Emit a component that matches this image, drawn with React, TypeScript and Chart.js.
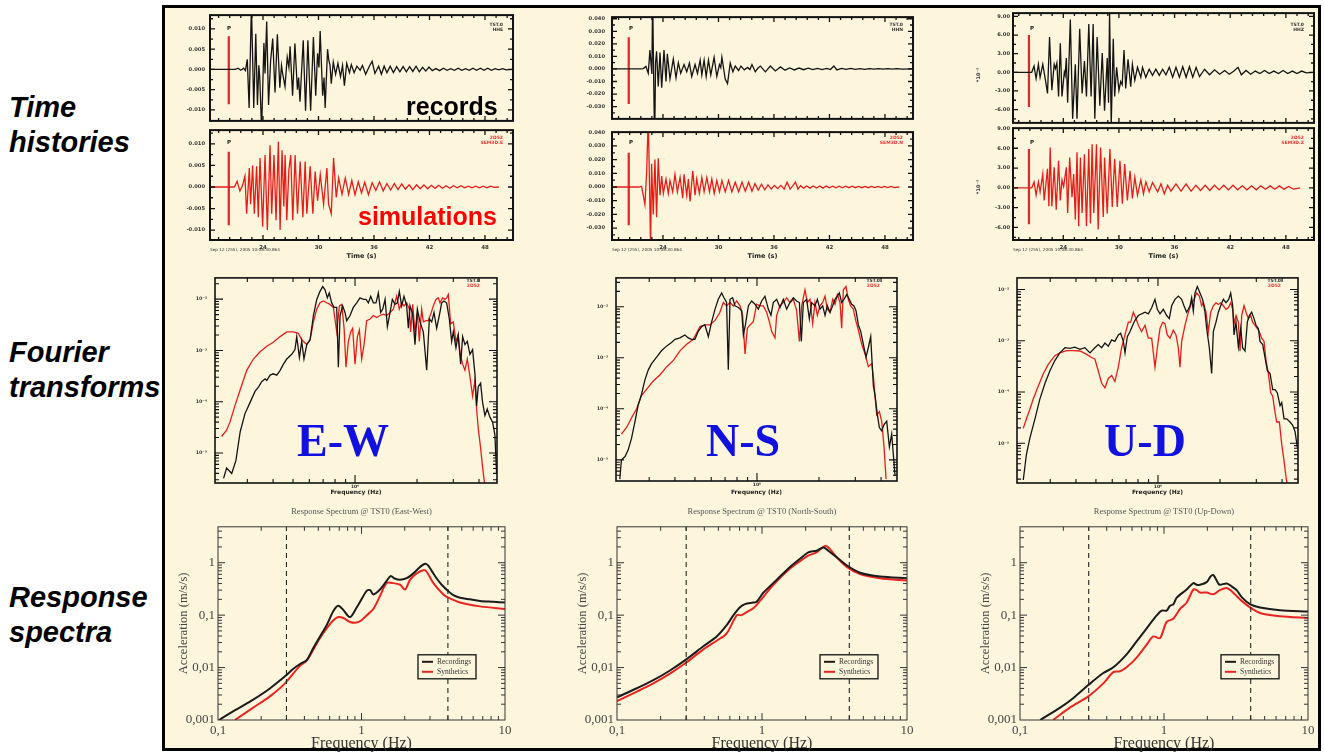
import React, { useEffect, useRef } from "react";
import { Chart, registerables } from "chart.js";

Chart.register(...registerables);
Chart.defaults.font.family = "'DejaVu Sans', sans-serif";

type Pt = [number, number];

// ---------------- Time histories ----------------
const ewRecorded: Pt[] = [
  [18.27,0],[21.0,0],[21.3,0.0003],[21.6,-0.0002],[21.9,0.0003],[22.1,-0.0003],[22.3,0.0025],[22.5,-0.0095],[22.75,0.016],[23.0,-0.0095],
  [23.22,0.0088],[23.4,-0.0088],[23.55,0.001],[23.65,-0.002],[23.85,-0.015],[24.1,0.0065],[24.22,-0.001],[24.4,0.0118],[24.6,-0.0088],[24.82,0.002],
  [25.05,0.0076],[25.3,-0.0057],[25.55,0.0087],[25.82,-0.0045],[26.0,0.001],[26.12,-0.001],[26.38,-0.0042],[26.62,0.003],[26.8,0.0005],[26.93,0.0057],
  [27.2,-0.0065],[27.45,0.0064],[27.72,-0.005],[27.85,-0.002],[28.0,-0.008],[28.35,0.0072],[28.6,-0.0102],[28.85,0.0072],[29.15,-0.0102],[29.45,0.008],
  [29.7,-0.0065],[29.9,0.004],[30.05,0.0005],[30.18,0.0095],[30.45,-0.0065],[30.6,-0.002],[30.72,-0.0095],[30.98,0.005],[31.1,0.0025],[31.25,0.001],
  [31.38,-0.0035],[31.6,0.0018],[31.85,-0.0012],[32.1,0.0015],[32.38,-0.0018],[32.6,0.001],[32.8,-0.004],[33.05,0.0015],[33.35,-0.0008],[33.55,0.0012],
  [33.85,-0.0008],[34.15,0.0008],[34.5,-0.0002],[34.75,0.001],[35.1,-0.0012],[35.5,0.0008],[35.8,0.002],[36.1,-0.001],[36.5,0.0008],[36.8,-0.0012],
  [37.1,0.0008],[37.4,-0.0008],[37.75,0.0008],[38.1,-0.0008],[38.45,0.0007],[38.8,-0.0006],[39.15,0.0007],[39.5,-0.0006],[39.85,0.0007],[40.2,-0.0005],
  [40.55,0.0008],[40.9,-0.0006],[41.25,0.0005],[41.6,-0.0004],[41.95,0.0006],[42.3,-0.0003],[42.7,0.0002],[43.1,-0.0003],[43.5,0.0003],[43.9,-0.0002],
  [44.3,0.0002],[44.7,-0.0002],[45.1,0.0003],[45.5,-0.0002],[45.9,0.0002],[46.3,-0.0002],[46.7,0.0003],[47.1,-0.0002],[47.5,0.0003],[47.9,-0.0002],
  [48.3,0.0003],[48.7,-0.0002],[49.1,0.0002],[49.5,-0.0001],[49.9,0.0002],[50.3,-0.0001],[51.03,0]
];
const ewSynthetic: Pt[] = [
  [18.27,0],[20.9,0],[21.2,0.0013],[21.5,-0.0009],[21.8,0.0004],[22.05,0.0025],[22.23,-0.0062],[22.52,0.0044],[22.66,-0.004],[22.88,0.005],
  [23.06,-0.0062],[23.31,0.0048],[23.49,-0.007],[23.68,0.0067],[23.96,-0.0092],[24.22,0.0074],[24.47,-0.01],[24.76,0.0097],[24.94,-0.0062],[25.19,0.0074],
  [25.41,-0.0077],[25.66,0.0105],[25.85,-0.01],[26.06,0.0085],[26.25,-0.0045],[26.39,0.0074],[26.57,-0.0077],[26.8,0.004],[27.0,0.0074],[27.22,-0.0077],
  [27.47,0.0074],[27.73,-0.0062],[28.02,0.0059],[28.31,-0.007],[28.56,0.0059],[28.74,-0.0062],[29.1,0.0048],[29.39,-0.0062],[29.64,0.0036],[29.9,-0.0032],
  [30.19,0.0029],[30.55,-0.004],[30.91,0.0044],[31.09,-0.004],[31.38,-0.0062],[31.63,0.0067],[31.92,-0.0024],[32.18,0.0021],[32.54,-0.0017],[32.9,0.0021],
  [33.26,-0.0017],[33.6,0.0015],[33.95,-0.0018],[34.3,0.0012],[34.65,-0.0014],[35.0,0.0011],[35.4,-0.0018],[35.8,0.001],[36.2,-0.0008],[36.6,0.0012],
  [37.0,-0.0009],[37.4,0.0008],[37.8,-0.0007],[38.2,0.0008],[38.6,-0.0006],[39.0,0.0007],[39.4,-0.0005],[39.8,0.0005],[40.2,-0.0006],[40.6,0.0005],
  [41.0,-0.0004],[41.4,0.0005],[41.8,-0.0004],[42.2,0.0004],[42.6,-0.0003],[43.0,0.0004],[43.4,-0.0003],[43.8,0.0003],[44.2,-0.0003],[44.6,0.0003],
  [45.0,-0.0002],[45.4,0.0003],[45.8,-0.0002],[46.2,0.0002],[46.6,-0.0002],[47.0,0.0002],[47.4,-0.0002],[47.8,0.0002],[48.2,-0.0002],[48.6,0.0002],
  [49.0,-0.0001],[49.5,0]
];
const nsRecorded: Pt[] = [
  [18.49,0],[21.6,0],[21.87,0.0003],[22.16,0.002],[22.41,-0.0035],[22.59,0.015],[22.8,-0.004],[22.88,0.06],[23.0,-0.01],[23.1,-0.06],
  [23.2,0.005],[23.31,0.014],[23.49,-0.014],[23.68,0.013],[23.86,-0.015],[24.11,0.015],[24.33,-0.01],[24.47,0.012],[24.76,-0.008],[25.12,0.008],
  [25.41,-0.007],[25.66,0.005],[25.92,-0.0035],[26.28,0.0035],[26.57,-0.0023],[26.86,0.0047],[27.11,-0.006],[27.47,0.0035],[27.73,-0.0035],[28.02,0.007],
  [28.2,-0.0047],[28.45,0.007],[28.67,-0.006],[28.92,0.007],[29.17,-0.0047],[29.53,0.0093],[29.82,-0.006],[30.11,0.0035],[30.25,0.001],[30.37,0.0093],
  [30.73,-0.008],[30.98,-0.0116],[31.27,0.0047],[31.56,-0.0023],[31.81,0.0023],[32.18,-0.0012],[32.43,0.0023],[32.79,-0.0007],[33.15,0.0012],[33.4,-0.0005],
  [33.62,0.0035],[33.98,-0.0023],[34.25,0.0005],[34.53,0.0023],[35.07,-0.0023],[35.61,0.0023],[36.15,-0.0016],[36.7,0.0016],[37.2,-0.001],[37.7,0.0008],
  [38.2,-0.0008],[38.7,0.0007],[39.2,-0.0006],[39.7,0.0006],[40.2,-0.0005],[40.7,0.0005],[41.2,-0.0005],[41.7,0.0004],[42.1,-0.0005],[42.48,0.0023],
  [42.8,-0.0008],[43.3,0.0005],[43.8,-0.0004],[44.3,0.0004],[44.8,-0.0003],[45.3,0.0003],[45.8,-0.0003],[46.3,0.0003],[46.8,-0.0002],[47.3,0.0002],
  [47.8,-0.0002],[48.3,0.0002],[48.8,-0.0002],[49.3,0.0002],[49.8,-0.0001],[51.03,0]
];
const nsSynthetic: Pt[] = [
  [18.49,0],[21.4,0],[21.69,0.0005],[22.05,-0.0128],[22.23,0.01],[22.41,0.05],[22.55,0],[22.66,-0.045],[22.77,0.017],[22.95,-0.02],
  [23.13,0.02],[23.31,-0.022],[23.49,0.021],[23.68,-0.006],[23.86,0.008],[24.04,-0.0047],[24.33,0.0058],[24.58,-0.0047],[24.76,0.0047],[25.05,-0.0035],
  [25.3,0.0093],[25.56,-0.0035],[25.85,0.007],[26.14,-0.0081],[26.28,0.0093],[26.57,-0.006],[26.75,0.0058],[26.93,-0.0105],[27.22,0.0116],[27.47,-0.006],
  [27.65,0.0058],[27.94,-0.0047],[28.2,0.007],[28.45,-0.0035],[28.74,0.007],[29.03,-0.0035],[29.28,0.0058],[29.54,-0.0047],[29.82,0.0047],[30.11,-0.0035],
  [30.37,0.0047],[30.73,-0.0035],[31.09,0.0047],[31.45,-0.0035],[31.81,0.0035],[32.18,-0.0035],[32.54,0.0035],[32.9,-0.003],[33.26,0.0035],[33.62,-0.003],
  [33.95,0.0025],[34.3,-0.0022],[34.65,0.002],[35.0,-0.002],[35.35,0.0015],[35.7,-0.0015],[36.05,0.0012],[36.4,-0.0012],[36.75,0.0012],[37.1,-0.0015],
  [37.42,0.0035],[37.75,-0.0015],[38.05,0.001],[38.32,0.0035],[38.6,-0.0015],[38.87,0.001],[39.2,-0.0008],[39.55,0.0008],[39.9,-0.0008],[40.25,0.0008],
  [40.6,-0.0007],[40.95,0.0007],[41.3,-0.0008],[41.65,0.0007],[42.0,-0.0006],[42.35,0.0006],[42.7,-0.0006],[43.05,0.0006],[43.4,-0.0006],[43.75,0.0006],
  [44.1,-0.0005],[44.45,0.0006],[44.8,-0.0005],[45.15,0.0005],[45.5,-0.0005],[45.85,0.0005],[46.2,-0.0005],[46.55,0.0005],[46.9,-0.0004],[47.25,0.0005],
  [47.6,-0.0004],[47.95,0.0005],[48.3,-0.0004],[48.65,0.0004],[49.0,-0.0004],[49.54,0]
];
// vertical component in units of 10^-3
const udRecorded: Pt[] = [
  [18.58,0],[20.6,0],[20.85,1.0],[21.07,-1.0],[21.32,1.3],[21.5,-0.8],[21.79,1.3],[22.05,-1.0],[22.3,-3.4],[22.52,5.7],
  [22.77,-2.9],[23.02,1.3],[23.15,0.6],[23.31,1.5],[23.49,-3.9],[23.68,4.7],[23.86,-3.9],[24.11,0],[24.2,-0.5],[24.33,2.3],
  [24.47,-4.9],[24.76,8.5],[25.01,-7.5],[25.3,1.3],[25.48,-7.5],[25.77,7.0],[26.03,-3.4],[26.28,1.8],[26.5,-3.9],[26.75,7.8],
  [27.0,-3.9],[27.22,7.8],[27.4,-7.5],[27.65,5.7],[27.94,-5.4],[28.2,3.1],[28.45,-6.2],[28.74,2.3],[28.88,-4.9],[28.99,9.8],
  [29.17,-8.5],[29.39,5.4],[29.54,-3.9],[29.75,0.8],[30.0,-2.9],[30.19,-1.5],[30.35,-2.0],[30.55,3.6],[30.73,-2.6],[30.98,2.1],
  [31.27,-2.3],[31.45,1.3],[31.71,-1.3],[32.0,0.8],[32.36,-0.8],[32.54,0.8],[32.9,-0.8],[33.26,0.5],[33.62,-0.5],[33.98,0.5],
  [34.35,-0.5],[34.71,0.5],[35.07,-0.4],[35.43,0.8],[35.79,-0.8],[36.15,0.8],[36.52,-0.8],[36.88,0.9],[37.24,-0.8],[37.6,0.9],
  [37.96,-0.8],[38.32,0.8],[38.69,-0.7],[39.23,0.5],[39.77,-0.4],[40.31,0.4],[40.86,-0.3],[41.4,0.3],[41.9,-0.3],[42.4,0.2],
  [42.84,0.8],[43.2,-0.4],[43.7,0.3],[44.2,-0.3],[44.7,0.2],[45.2,-0.2],[45.7,0.3],[46.2,-0.2],[46.7,0.2],[47.2,-0.2],
  [47.7,0.3],[48.2,-0.2],[48.7,0.2],[49.2,-0.2],[49.7,0.2],[50.2,-0.1],[51.0,0]
];
const udSynthetic: Pt[] = [
  [18.58,0],[20.6,0],[20.85,0.9],[21.07,-1.1],[21.32,0.9],[21.5,-0.6],[21.79,2.1],[21.94,-1.9],[22.3,2.9],[22.45,-2.8],
  [22.59,6.1],[22.77,-2.8],[23.02,3.1],[23.24,-3.3],[23.49,4.1],[23.68,-1.9],[23.86,1.2],[24.04,0.2],[24.33,3.1],[24.47,-3.8],
  [24.69,4.6],[24.94,-1.4],[25.12,2.1],[25.3,-4.8],[25.48,5.4],[25.66,-5.8],[25.85,4.6],[26.03,-3.8],[26.28,5.1],[26.5,-5.8],
  [26.75,5.9],[26.93,-5.4],[27.11,6.6],[27.29,-3.8],[27.58,6.6],[27.76,-6.3],[28.02,6.1],[28.31,-4.4],[28.45,4.6],[28.74,-3.9],
  [29.03,5.9],[29.28,-2.9],[29.54,4.4],[29.82,-2.9],[30.11,4.1],[30.37,-2.4],[30.62,3.6],[30.91,-1.9],[31.2,2.6],[31.45,-1.6],
  [31.71,1.6],[32.0,-1.1],[32.36,1.2],[32.65,-0.9],[32.9,0.9],[33.26,-0.6],[33.62,0.8],[34.17,-0.6],[34.53,0.6],[34.89,-0.9],
  [35.25,0.4],[35.61,-0.5],[36.15,0.6],[36.7,-0.5],[37.24,0.6],[37.78,-0.5],[38.3,0.4],[38.8,-0.4],[39.3,0.4],[39.8,-0.4],
  [40.3,0.4],[40.8,-0.3],[41.3,0.4],[41.8,-0.3],[42.3,0.4],[42.8,-0.3],[43.3,0.3],[43.8,-0.3],[44.3,0.3],[44.8,-0.3],
  [45.3,0.3],[45.8,-0.2],[46.3,0.3],[46.8,-0.2],[47.3,0.3],[47.8,-0.2],[48.3,0.2],[48.8,-0.2],[49.54,0]
];

// P-wave pick markers (time, amplitude extent)
const ewPickTop: Pt[] = [[20.3, 0.0082], [20.3, -0.0086]];
const ewPickBottom: Pt[] = [[20.3, 0.0082], [20.3, -0.0089]];
const nsPickTop: Pt[] = [[20.3, 0.0253], [20.3, -0.0279]];
const nsPickBottom: Pt[] = [[20.3, 0.025], [20.3, -0.028]];
const udPickTop: Pt[] = [[20.3, 6.0], [20.3, -5.6]];
const udPickBottom: Pt[] = [[20.3, 5.9], [20.3, -5.5]];

const TIME_TICKS = [24, 30, 36, 42, 48];
const TIME_MINOR = [19.2, 20.4, 21.6, 22.8, 25.2, 26.4, 27.6, 28.8, 31.2, 32.4, 33.6, 34.8, 37.2, 38.4, 39.6, 40.8, 43.2, 44.4, 45.6, 46.8, 49.2, 50.4];
const EW_TICKS = [-0.01, -0.005, 0, 0.005, 0.01];
const EW_MINOR = [-0.0125, -0.0075, -0.0025, 0.0025, 0.0075, 0.0125];
const NS_TICKS = [-0.03, -0.02, -0.01, 0, 0.01, 0.02, 0.03, 0.04];
const NS_MINOR = [-0.035, -0.025, -0.015, -0.005, 0.005, 0.015, 0.025, 0.035];
const UD_TICKS = [-6, -3, 0, 3, 6, 9];
const UD_MINOR = [-7.5, -4.5, -1.5, 1.5, 4.5, 7.5];

// ---------------- Fourier amplitude spectra (Hz, amplitude) ----------------
const ewFourierRec: Pt[] = [
  [0.23,3.2e-6],[0.238,5.1e-6],[0.252,4.0e-6],[0.264,7.1e-6],[0.277,2.6e-5],[0.292,5.8e-5],[0.309,9.6e-5],[0.327,1.59e-4],[0.341,1.97e-4],[0.352,2.45e-4],
  [0.366,2.8e-4],[0.373,2.6e-4],[0.387,3.3e-4],[0.401,3.5e-4],[0.417,3.3e-4],[0.433,4.1e-4],[0.449,5.4e-4],[0.466,6.8e-4],[0.493,8.4e-4],[0.511,1.04e-3],
  [0.521,1.86e-3],[0.537,7.3e-4],[0.551,1.5e-3],[0.565,6.8e-4],[0.583,1.3e-3],[0.605,1.61e-3],[0.628,4.8e-3],[0.652,9.9e-3],[0.676,1.42e-2],[0.697,1.76e-2],
  [0.715,1.52e-2],[0.734,1.06e-2],[0.75,1.32e-2],[0.77,8.5e-3],[0.791,6.9e-3],[0.815,6.9e-3],[0.83,4.7e-4],[0.846,4.8e-3],[0.871,7.4e-3],[0.894,5.5e-3],
  [0.911,3.8e-3],[0.946,4.8e-3],[0.981,6.9e-3],[1.019,8.5e-3],[1.057,1.06e-2],[1.098,9.9e-3],[1.131,9.9e-3],[1.161,8.5e-3],[1.192,1.14e-2],[1.227,8.5e-3],
  [1.264,8.5e-3],[1.298,1.32e-2],[1.332,5.5e-3],[1.363,6.4e-3],[1.399,9.9e-3],[1.436,2.9e-3],[1.479,5.5e-3],[1.518,9.9e-3],[1.564,7.9e-3],[1.605,8.5e-3],
  [1.641,1.42e-2],[1.684,7.4e-3],[1.729,1.14e-2],[1.781,7.4e-3],[1.815,2.7e-3],[1.849,7.4e-3],[1.905,5.1e-3],[1.955,1.3e-3],[2.007,6.4e-3],[2.067,3.6e-3],
  [2.146,2.3e-3],[2.228,4.1e-4],[2.295,4.1e-3],[2.356,3.6e-3],[2.418,5.5e-3],[2.491,2.7e-3],[2.566,4.8e-3],[2.634,8.5e-3],[2.703,9.2e-3],[2.785,8.5e-3],
  [2.87,4.1e-3],[2.945,1.5e-3],[3.0,2.3e-3],[3.09,1.12e-3],[3.17,2.0e-3],[3.257,5.4e-4],[3.33,1.86e-3],[3.418,1.3e-3],[3.508,1.5e-3],[3.614,8.4e-4],
  [3.723,1.04e-3],[3.82,3.5e-4],[3.893,8.3e-5],[3.966,1.97e-4],[4.071,2.3e-4],[4.163,9.6e-5],[4.273,5.4e-5],[4.386,7.2e-5],[4.518,5.0e-5],[4.655,4.0e-5],
  [4.777,2.25e-5],[4.867,4.0e-6]
];
const ewFourierSyn: Pt[] = [
  [0.225,2.1e-5],[0.238,2.8e-5],[0.247,4.0e-5],[0.261,8.3e-5],[0.277,1.71e-4],[0.298,4.1e-4],[0.321,6.8e-4],[0.346,9.4e-4],[0.373,1.21e-3],[0.401,1.44e-3],
  [0.433,1.86e-3],[0.466,2.3e-3],[0.502,2.3e-3],[0.531,2.15e-3],[0.551,1.61e-3],[0.583,1.3e-3],[0.605,1.61e-3],[0.628,3.6e-3],[0.652,6.4e-3],[0.676,8.5e-3],
  [0.702,9.2e-3],[0.728,8.5e-3],[0.756,7.9e-3],[0.785,6.9e-3],[0.815,2.3e-3],[0.84,7.4e-3],[0.862,7.9e-3],[0.885,2.7e-3],[0.904,4.7e-4],[0.928,1.5e-3],
  [0.953,2.3e-3],[0.974,2.7e-3],[1.0,5.4e-4],[1.027,1.86e-3],[1.05,2.5e-3],[1.077,6.8e-4],[1.106,1.3e-3],[1.139,3.8e-3],[1.183,4.1e-3],[1.227,4.8e-3],
  [1.274,4.4e-3],[1.322,4.8e-3],[1.373,5.1e-3],[1.425,4.8e-3],[1.479,5.5e-3],[1.535,6.4e-3],[1.593,1.14e-2],[1.641,6.4e-3],[1.684,8.5e-3],[1.729,7.4e-3],
  [1.781,8.5e-3],[1.835,6.4e-3],[1.863,2.3e-3],[1.905,7.9e-3],[1.955,2.3e-3],[2.007,5.5e-3],[2.052,1.5e-3],[2.106,6.4e-3],[2.146,3.6e-3],[2.211,3.8e-3],
  [2.27,3.8e-3],[2.33,5.1e-3],[2.4,7.4e-3],[2.472,9.9e-3],[2.537,1.06e-2],[2.585,8.5e-3],[2.663,1.06e-2],[2.733,9.9e-3],[2.785,1.06e-2],[2.838,1.23e-2],
  [2.913,3.3e-3],[3.0,3.6e-3],[3.09,1.5e-3],[3.17,2.0e-3],[3.232,9.0e-4],[3.33,5.4e-4],[3.418,4.1e-4],[3.508,6.8e-4],[3.614,3.05e-4],[3.723,1.28e-4],
  [3.82,2.6e-4],[3.893,7.2e-5],[3.966,3.0e-5],[4.071,1.26e-5],[4.163,5.3e-6],[4.273,2.2e-6]
];
const nsFourierRec: Pt[] = [
  [0.216,4.2e-6],[0.22,1.0e-5],[0.229,1.16e-5],[0.237,1.55e-5],[0.246,2.6e-5],[0.256,5.7e-5],[0.265,1.17e-4],[0.275,1.9e-4],[0.286,3.7e-4],[0.297,5.8e-4],
  [0.308,7.7e-4],[0.326,1.03e-3],[0.344,1.37e-3],[0.365,1.71e-3],[0.385,2.0e-3],[0.4,2.3e-3],[0.423,2.45e-3],[0.447,2.8e-3],[0.464,2.45e-3],[0.482,2.3e-3],
  [0.5,2.3e-3],[0.519,3.3e-3],[0.539,4.1e-3],[0.559,4.4e-3],[0.581,2.6e-3],[0.603,5.1e-3],[0.626,9.0e-3],[0.649,1.4e-2],[0.674,1.86e-2],[0.692,1.5e-2],
  [0.712,1.21e-2],[0.726,5.8e-4],[0.74,1.4e-2],[0.762,1.5e-2],[0.782,1.04e-2],[0.812,9.7e-3],[0.843,8.4e-3],[0.859,2.8e-3],[0.879,4.4e-3],[0.908,1.04e-2],
  [0.942,1.3e-2],[0.978,1.12e-2],[1.015,9.0e-3],[1.054,1.3e-2],[1.093,1.61e-2],[1.135,9.0e-3],[1.169,6.8e-3],[1.2,1.21e-2],[1.246,1.4e-2],[1.293,9.7e-3],
  [1.342,1.4e-2],[1.393,9.0e-3],[1.446,1.21e-2],[1.501,1.5e-2],[1.558,1.3e-2],[1.606,1.21e-2],[1.641,2.1e-3],[1.679,1.21e-2],[1.742,1.4e-2],[1.795,5.8e-3],
  [1.842,1.21e-2],[1.912,1.04e-2],[1.963,1.4e-2],[2.022,9.0e-3],[2.084,1.04e-2],[2.139,6.8e-3],[2.195,1.04e-2],[2.262,7.8e-3],[2.33,1.04e-2],[2.391,1.4e-2],
  [2.455,1.61e-2],[2.51,1.86e-2],[2.576,1.21e-2],[2.644,1.4e-2],[2.724,1.73e-2],[2.806,1.4e-2],[2.88,1.12e-2],[2.956,1.04e-2],[3.024,8.4e-3],[3.104,4.4e-3],
  [3.186,3.3e-3],[3.283,1.84e-3],[3.382,1.03e-3],[3.471,1.59e-3],[3.563,2.6e-3],[3.671,2.8e-4],[3.74,1.81e-4],[3.839,7.6e-5],[3.926,4.3e-5],[4.029,3.7e-5],
  [4.136,4.9e-5],[4.261,5.7e-5],[4.39,1.79e-5],[4.506,3.2e-5],[4.677,4.8e-6]
];
const nsFourierSyn: Pt[] = [
  [0.22,3.2e-5],[0.233,4.3e-5],[0.246,6.6e-5],[0.261,1.01e-4],[0.275,1.81e-4],[0.291,2.4e-4],[0.314,3.5e-4],[0.338,4.6e-4],[0.365,6.7e-4],[0.393,8.9e-4],
  [0.423,1.37e-3],[0.456,1.84e-3],[0.491,2.3e-3],[0.529,4.1e-3],[0.559,4.4e-3],[0.591,4.4e-3],[0.626,5.4e-3],[0.661,7.8e-3],[0.687,1.21e-2],[0.712,1.04e-2],
  [0.74,1.21e-2],[0.768,1.04e-2],[0.797,1.3e-2],[0.827,1.04e-2],[0.852,6.8e-3],[0.875,1.19e-3],[0.898,3.8e-3],[0.925,4.4e-3],[0.96,5.1e-3],[0.996,1.12e-2],
  [1.034,1.04e-2],[1.073,1.04e-2],[1.114,7.8e-3],[1.148,5.1e-3],[1.178,3.3e-3],[1.223,2.45e-3],[1.246,6.8e-3],[1.293,1.04e-2],[1.342,1.21e-2],[1.393,1.5e-2],
  [1.446,1.21e-2],[1.501,1.4e-2],[1.558,8.4e-3],[1.606,2.1e-3],[1.648,1.04e-2],[1.71,2.15e-2],[1.755,1.21e-2],[1.808,1.4e-2],[1.863,4.7e-3],[1.912,1.21e-2],
  [1.963,6.8e-3],[2.022,1.04e-2],[2.084,1.21e-2],[2.139,1.61e-2],[2.195,9.0e-3],[2.262,7.8e-3],[2.33,1.4e-2],[2.391,1.12e-2],[2.455,1.73e-2],[2.529,1.21e-2],
  [2.576,3.8e-3],[2.625,2.15e-2],[2.704,2.49e-2],[2.775,1.4e-2],[2.848,1.04e-2],[2.934,9.0e-3],[3.024,5.1e-3],[3.104,3.5e-3],[3.222,1.84e-3],[3.345,1.19e-3],
  [3.471,6.7e-4],[3.603,7.7e-4],[3.671,4.3e-4],[3.74,1.81e-4],[3.811,7.6e-5],[3.926,8.8e-5],[4.029,5.7e-5],[4.136,1.79e-5],[4.229,4.2e-6]
];
const udFourierRec: Pt[] = [
  [0.222,1.92e-6],[0.23,6.1e-6],[0.239,1.26e-5],[0.253,3.0e-5],[0.267,7.2e-5],[0.283,1.48e-4],[0.299,2.6e-4],[0.316,4.1e-4],[0.334,5.8e-4],[0.354,7.3e-4],
  [0.374,7.1e-4],[0.395,7.5e-4],[0.418,6.8e-4],[0.442,7.3e-4],[0.468,5.8e-4],[0.494,7.3e-4],[0.513,8.4e-4],[0.533,7.3e-4],[0.553,9.0e-4],[0.574,7.8e-4],
  [0.596,1.04e-3],[0.618,9.7e-4],[0.642,1.3e-3],[0.659,1.4e-3],[0.679,9.7e-4],[0.692,5.8e-4],[0.71,1.2e-3],[0.731,1.5e-3],[0.754,2.0e-3],[0.774,2.5e-3],
  [0.803,3.1e-3],[0.833,3.35e-3],[0.865,3.6e-3],[0.898,3.35e-3],[0.932,4.4e-3],[0.967,6.4e-3],[0.993,4.1e-3],[1.023,3.35e-3],[1.061,4.1e-3],[1.102,3.1e-3],
  [1.135,2.7e-3],[1.165,4.8e-3],[1.209,6.4e-3],[1.255,7.4e-3],[1.303,6.4e-3],[1.337,4.8e-3],[1.378,3.6e-3],[1.404,4.1e-3],[1.43,4.8e-3],[1.457,6.9e-3],
  [1.484,3.8e-3],[1.512,8.5e-3],[1.552,1.14e-2],[1.599,8.5e-3],[1.647,6.4e-3],[1.691,3.6e-3],[1.723,1.73e-3],[1.775,7.3e-4],[1.822,2.3e-4],[1.856,1.5e-3],
  [1.912,2.3e-3],[1.963,3.6e-3],[2.015,4.8e-3],[2.076,6.4e-3],[2.139,5.5e-3],[2.203,6.4e-3],[2.253,8.5e-3],[2.304,4.8e-3],[2.339,1.3e-3],[2.391,2.3e-3],
  [2.455,7.6e-4],[2.52,1.73e-3],[2.576,7.3e-4],[2.644,6.3e-4],[2.714,2.3e-3],[2.775,3.1e-3],[2.848,3.6e-3],[2.924,2.7e-3],[2.99,2.0e-3],[3.069,1.73e-3],
  [3.127,9.7e-4],[3.222,8.4e-4],[3.307,4.7e-4],[3.395,2.6e-4],[3.498,2.3e-4],[3.603,1.11e-4],[3.698,1.11e-4],[3.796,9.6e-5],[3.911,5.4e-5],[3.985,6.2e-5],
  [4.09,3.0e-5],[4.213,3.0e-5],[4.373,2.6e-5],[4.505,2.25e-5],[4.624,1.7e-5],[4.746,8.2e-6]
];
const udFourierSyn: Pt[] = [
  [0.222,1.95e-5],[0.23,3.0e-5],[0.239,4.6e-5],[0.248,7.2e-5],[0.262,1.28e-4],[0.278,2.3e-4],[0.294,3.5e-4],[0.316,5.1e-4],[0.334,5.8e-4],[0.36,6.4e-4],
  [0.388,6.4e-4],[0.418,6.3e-4],[0.451,5.4e-4],[0.476,4.7e-4],[0.494,4.4e-4],[0.513,2.6e-4],[0.533,1.48e-4],[0.553,1.2e-4],[0.574,1.84e-4],[0.596,2.1e-4],
  [0.618,1.6e-4],[0.642,3.05e-4],[0.666,7.3e-4],[0.692,1.3e-3],[0.718,2.3e-3],[0.737,2.3e-3],[0.759,3.6e-3],[0.782,2.7e-3],[0.803,2.0e-3],[0.833,1.5e-3],
  [0.865,2.0e-3],[0.898,1.12e-3],[0.932,1.12e-3],[0.967,3.05e-4],[0.993,7.3e-4],[1.023,1.73e-3],[1.054,2.3e-3],[1.081,2.15e-3],[1.11,1.3e-3],[1.144,1.12e-3],
  [1.187,1.6e-3],[1.223,1.3e-3],[1.255,7.3e-4],[1.279,3.05e-4],[1.303,9.7e-4],[1.352,2.0e-3],[1.404,3.6e-3],[1.457,5.5e-3],[1.496,6.4e-3],[1.541,8.5e-3],
  [1.587,7.4e-3],[1.629,4.8e-3],[1.66,5.5e-3],[1.71,3.6e-3],[1.755,1.5e-3],[1.802,3.6e-3],[1.856,4.8e-3],[1.912,5.5e-3],[1.963,5.1e-3],[2.015,5.5e-3],
  [2.076,4.8e-3],[2.139,4.1e-3],[2.195,4.4e-3],[2.253,5.5e-3],[2.304,4.1e-3],[2.339,2.15e-3],[2.391,3.1e-3],[2.455,2.3e-3],[2.501,6.3e-4],[2.548,3.1e-3],
  [2.615,4.8e-3],[2.674,3.6e-3],[2.744,2.7e-3],[2.817,3.1e-3],[2.88,2.3e-3],[2.956,2.0e-3],[3.035,1.73e-3],[3.104,1.5e-3],[3.186,1.12e-3],[3.27,9.7e-4],
  [3.345,4.1e-4],[3.433,2.3e-4],[3.524,9.6e-5],[3.603,8.3e-5],[3.698,4.0e-5],[3.768,2.6e-5],[3.882,2.6e-5],[3.985,9.5e-6],[4.09,4.6e-6],[4.182,2.2e-6],[4.292,1.1e-6]
];

// ---------------- Response spectra (Hz, m/s/s) ----------------
const ewSpectrumRec: Pt[] = [
  [0.1,0.00095],[0.106,0.00107],[0.135,0.0016],[0.176,0.00245],[0.23,0.004],[0.293,0.0068],[0.335,0.0095],[0.373,0.0117],[0.415,0.0139],[0.462,0.0238],
  [0.514,0.0392],[0.572,0.0644],[0.637,0.12],[0.689,0.151],[0.747,0.125],[0.832,0.0918],[0.925,0.14],[1.0,0.2],[1.086,0.29],[1.15,0.299],
  [1.209,0.248],[1.346,0.308],[1.497,0.45],[1.6,0.558],[1.7,0.5],[1.855,0.471],[2.065,0.506],[2.298,0.626],[2.557,0.831],[2.77,0.958],
  [2.9,0.9],[3.083,0.7],[3.341,0.5],[3.62,0.38],[4.029,0.286],[4.365,0.24],[4.858,0.215],[5.703,0.2],[6.697,0.187],[8.294,0.18],[10,0.174]
];
const ewSpectrumSyn: Pt[] = [
  [0.131,0.001],[0.176,0.00172],[0.23,0.00282],[0.293,0.005],[0.373,0.0109],[0.415,0.0135],[0.462,0.0222],[0.514,0.0365],[0.572,0.0558],[0.637,0.0797],
  [0.689,0.0918],[0.747,0.088],[0.832,0.0742],[0.925,0.0721],[1.0,0.08],[1.086,0.0986],[1.209,0.131],[1.346,0.231],[1.497,0.408],[1.667,0.408],
  [1.855,0.38],[2.01,0.308],[2.178,0.471],[2.424,0.626],[2.697,0.721],[2.845,0.672],[3.167,0.408],[3.719,0.248],[4.029,0.215],[4.858,0.174],[6.697,0.147],[10,0.131]
];
const nsSpectrumRec: Pt[] = [
  [0.1,0.0027],[0.137,0.00403],[0.178,0.00574],[0.232,0.0088],[0.302,0.0145],[0.394,0.0255],[0.487,0.0392],[0.571,0.0644],[0.634,0.0986],[0.705,0.141],
  [0.763,0.162],[0.871,0.174],[0.919,0.18],[1.021,0.267],[1.262,0.471],[1.56,0.831],[1.829,1.186],[2.087,1.577],[2.382,1.692],[2.648,1.95],
  [2.868,1.692],[3.273,1.273],[3.837,0.893],[4.743,0.644],[6.514,0.543],[10,0.506]
];
const nsSpectrumSyn: Pt[] = [
  [0.1,0.0023],[0.137,0.00349],[0.178,0.005],[0.232,0.00764],[0.302,0.0126],[0.394,0.0222],[0.487,0.0325],[0.571,0.0451],[0.669,0.0986],[0.724,0.1],
  [0.784,0.114],[0.871,0.135],[0.969,0.187],[1.197,0.38],[1.56,0.774],[1.829,1.074],[2.087,1.367],[2.382,1.577],[2.72,2.094],[2.944,1.816],
  [3.273,1.273],[3.837,0.831],[4.743,0.608],[6.514,0.506],[10,0.457]
];
const udSpectrumRec: Pt[] = [
  [0.138,0.001],[0.19,0.00172],[0.235,0.00263],[0.298,0.00464],[0.379,0.00786],[0.445,0.0101],[0.55,0.0179],[0.646,0.0316],[0.758,0.0558],[0.889,0.0986],
  [0.963,0.122],[1.043,0.122],[1.101,0.151],[1.161,0.16],[1.225,0.215],[1.437,0.308],[1.598,0.408],[1.686,0.38],[1.778,0.38],[1.978,0.426],
  [2.109,0.55],[2.2,0.582],[2.384,0.4],[2.448,0.38],[2.724,0.4],[2.951,0.354],[3.196,0.3],[3.463,0.22],[3.956,0.162],[4.642,0.14],[6.39,0.124],[10,0.117]
];
const udSpectrumSyn: Pt[] = [
  [0.17,0.001],[0.222,0.00172],[0.298,0.00282],[0.379,0.005],[0.445,0.0082],[0.495,0.0085],[0.55,0.0101],[0.646,0.0155],[0.758,0.0274],[0.843,0.0392],
  [0.938,0.0365],[1.043,0.0742],[1.161,0.0855],[1.292,0.131],[1.437,0.174],[1.598,0.308],[1.686,0.3],[1.778,0.27],[1.978,0.27],[2.201,0.25],
  [2.448,0.3],[2.724,0.33],[2.951,0.286],[3.196,0.23],[3.463,0.187],[3.956,0.141],[4.642,0.11],[6.39,0.095],[10,0.088]
];
const BAND_LOW = 0.3;
const BAND_HIGH = 4;
const RS_X_TICKS = [0.1, 1, 10];
const RS_Y_TICKS = [0.001, 0.01, 0.1, 1];
const FT_Y_TICKS = [1e-5, 1e-4, 1e-3, 1e-2];
const FT_Y_MAJOR = [1e-6, 1e-5, 1e-4, 1e-3, 1e-2];

// ---------------- styles ----------------
const BG = "#fdf6dd";
const INK = "#141414";
const RED = "#e41d1a";
const PICK = "#d8282b";
const BLUE = "#1010e0";

const xy = (a: Pt[]) => a.map(([x, y]) => ({ x, y }));
const LOG_STEPS = [2, 3, 4, 5, 6, 7, 8, 9];
const logMinors = (decades: number[]) => decades.flatMap((d) => LOG_STEPS.map((m) => m * d));
const SUP: Record<string, string> = { "-": "⁻", "0": "⁰", "1": "¹", "2": "²", "3": "³", "4": "⁴", "5": "⁵", "6": "⁶", "7": "⁷", "8": "⁸", "9": "⁹" };
const pow10 = (v: number) => "10" + String(Math.round(Math.log10(v))).split("").map((c) => SUP[c]).join("");
const comma = (v: number) => String(v).replace(".", ",");

interface Geo { left: number; top: number; right: number; bottom: number; L: number; T: number; R: number; B: number }
const boxOf = (g: Geo) => ({ x: g.left - g.L, y: g.top - g.T, w: g.L + (g.right - g.left) + g.R, h: g.T + (g.bottom - g.top) + g.B });

interface FrameSpec { width: number; tickWidth: number; color: string; xMajor: number[]; xMinor: number[]; yMajor: number[]; yMinor: number[]; major: number; minor: number }
function makeFrame(s: FrameSpec) {
  return {
    id: "frame",
    afterDatasetsDraw(chart: any) {
      const { ctx, chartArea: a } = chart;
      const xs = chart.scales.x;
      const ys = chart.scales.y;
      ctx.save();
      ctx.strokeStyle = s.color;
      ctx.lineWidth = s.tickWidth;
      const drawX = (vals: number[], len: number) => {
        for (const v of vals) {
          const px = xs.getPixelForValue(v);
          if (px < a.left + 1 || px > a.right - 1) continue;
          ctx.beginPath();
          ctx.moveTo(px, a.bottom); ctx.lineTo(px, a.bottom - len);
          ctx.moveTo(px, a.top); ctx.lineTo(px, a.top + len);
          ctx.stroke();
        }
      };
      const drawY = (vals: number[], len: number) => {
        for (const v of vals) {
          const py = ys.getPixelForValue(v);
          if (py < a.top + 1 || py > a.bottom - 1) continue;
          ctx.beginPath();
          ctx.moveTo(a.left, py); ctx.lineTo(a.left + len, py);
          ctx.moveTo(a.right, py); ctx.lineTo(a.right - len, py);
          ctx.stroke();
        }
      };
      drawX(s.xMinor, s.minor); drawX(s.xMajor, s.major);
      drawY(s.yMinor, s.minor); drawY(s.yMajor, s.major);
      ctx.lineWidth = s.width;
      ctx.strokeRect(a.left, a.top, a.right - a.left, a.bottom - a.top);
      ctx.restore();
    },
  };
}

function makeLegend(pos: { right: number; top: number; width: number; height: number }) {
  return {
    id: "boxLegend",
    afterDraw(chart: any) {
      const { ctx, chartArea: a } = chart;
      const x = a.right - pos.right - pos.width;
      const y = a.top + pos.top;
      ctx.save();
      ctx.fillStyle = BG;
      ctx.fillRect(x, y, pos.width, pos.height);
      ctx.strokeStyle = "#111";
      ctx.lineWidth = 1.3;
      ctx.strokeRect(x, y, pos.width, pos.height);
      const items = chart.data.datasets.filter((d: any) => d.label && !d.label.startsWith("_"));
      items.forEach((d: any, i: number) => {
        const ly = y + 7 + i * 10;
        ctx.strokeStyle = d.borderColor;
        ctx.lineWidth = 2;
        ctx.beginPath(); ctx.moveTo(x + 4, ly); ctx.lineTo(x + 15, ly); ctx.stroke();
        ctx.fillStyle = "#333";
        ctx.font = "7.5px 'Liberation Serif', serif";
        ctx.textBaseline = "middle";
        ctx.fillText(d.label, x + 19, ly);
      });
      ctx.restore();
    },
  };
}

const baseOptions = (g: Geo) => ({
  responsive: false,
  animation: false,
  events: [],
  layout: { padding: { left: 0, top: g.T, right: g.R, bottom: 0 }, autoPadding: false },
  plugins: { legend: { display: false }, tooltip: { enabled: false }, title: { display: false } },
});
const NO_GRID = { display: false, drawTicks: false, tickLength: 0 };

interface TimeSpec { trace: Pt[]; color: string; pick: Pt[]; xMin: number; yMin: number; yMax: number; yTicks: number[]; yMinor: number[]; digits: number; showX: boolean; pad: number }
function timeChart(p: TimeSpec, g: Geo) {
  return {
    type: "line",
    data: {
      datasets: [
        { data: xy(p.trace), borderColor: p.color, borderWidth: 1.3, pointRadius: 0, tension: 0 },
        { data: xy(p.pick), borderColor: PICK, borderWidth: 2.2, pointRadius: 0 },
      ],
    },
    options: {
      ...baseOptions(g),
      scales: {
        x: {
          type: "linear", min: p.xMin, max: 51.03,
          grid: NO_GRID, border: { display: false },
          afterBuildTicks: (s: any) => { s.ticks = TIME_TICKS.map((v) => ({ value: v })); },
          afterFit: (s: any) => { s.height = g.B; },
          ticks: { display: p.showX, autoSkip: false, maxRotation: 0, padding: 4, color: "#333", font: { size: 5.5, weight: "bold" }, callback: (v: any) => String(v) },
          title: { display: p.showX, text: "Time (s)", color: "#222", font: { size: 6.5, weight: "bold" }, padding: { top: 0, bottom: 0 } },
        },
        y: {
          type: "linear", min: p.yMin, max: p.yMax,
          grid: NO_GRID, border: { display: false },
          afterBuildTicks: (s: any) => { s.ticks = p.yTicks.map((v) => ({ value: v })); },
          afterFit: (s: any) => { s.width = g.L; },
          ticks: { autoSkip: false, padding: p.pad, color: "#333", font: { size: 5.2, weight: "bold" }, callback: (v: any) => Number(v).toFixed(p.digits) },
        },
      },
    },
    plugins: [makeFrame({ width: 2, tickWidth: 1.3, color: "#111", xMajor: TIME_TICKS, xMinor: TIME_MINOR, yMajor: p.yTicks, yMinor: p.yMinor, major: 5, minor: 3 })],
  };
}

interface FourierSpec { rec: Pt[]; syn: Pt[]; xMin: number; xMax: number; yMin: number; yMax: number }
function fourierChart(p: FourierSpec, g: Geo) {
  return {
    type: "line",
    data: {
      datasets: [
        { data: xy(p.rec), borderColor: INK, borderWidth: 1.3, pointRadius: 0, tension: 0 },
        { data: xy(p.syn), borderColor: RED, borderWidth: 1.3, pointRadius: 0, tension: 0 },
      ],
    },
    options: {
      ...baseOptions(g),
      scales: {
        x: {
          type: "logarithmic", min: p.xMin, max: p.xMax,
          grid: NO_GRID, border: { display: false },
          afterBuildTicks: (s: any) => { s.ticks = [{ value: 1 }]; },
          afterFit: (s: any) => { s.height = g.B; },
          ticks: { autoSkip: false, maxRotation: 0, padding: 1, color: "#333", font: { size: 4.5, weight: "bold" }, callback: (v: any) => pow10(Number(v)) },
          title: { display: true, text: "Frequency (Hz)", color: "#222", font: { size: 6, weight: "bold" }, padding: { top: 0, bottom: 0 } },
        },
        y: {
          type: "logarithmic", min: p.yMin, max: p.yMax,
          grid: NO_GRID, border: { display: false },
          afterBuildTicks: (s: any) => { s.ticks = FT_Y_TICKS.map((v) => ({ value: v })); },
          afterFit: (s: any) => { s.width = g.L; },
          ticks: { autoSkip: false, padding: 8, color: "#333", font: { size: 4.8, weight: "bold" }, callback: (v: any) => pow10(Number(v)) },
        },
      },
    },
    plugins: [makeFrame({ width: 1.6, tickWidth: 1.1, color: "#111", xMajor: [1], xMinor: logMinors([0.1, 1]), yMajor: FT_Y_MAJOR, yMinor: logMinors([1e-7, 1e-6, 1e-5, 1e-4, 1e-3, 1e-2]), major: 8, minor: 4 })],
  };
}

function spectrumChart(rec: Pt[], syn: Pt[], g: Geo) {
  const yMin = 0.001;
  const yMax = 4.84;
  return {
    type: "line",
    data: {
      datasets: [
        { label: "_low", data: xy([[BAND_LOW, yMin], [BAND_LOW, yMax]]), borderColor: "#222", borderWidth: 1.1, borderDash: [5, 4], pointRadius: 0 },
        { label: "_high", data: xy([[BAND_HIGH, yMin], [BAND_HIGH, yMax]]), borderColor: "#222", borderWidth: 1.1, borderDash: [5, 4], pointRadius: 0 },
        { label: "Recordings", data: xy(rec), borderColor: "#1b1b1b", borderWidth: 2, pointRadius: 0, tension: 0.3 },
        { label: "Synthetics", data: xy(syn), borderColor: "#ec2420", borderWidth: 2, pointRadius: 0, tension: 0.3 },
      ],
    },
    options: {
      ...baseOptions(g),
      scales: {
        x: {
          type: "logarithmic", min: 0.1, max: 10,
          grid: NO_GRID, border: { display: false },
          afterBuildTicks: (s: any) => { s.ticks = RS_X_TICKS.map((v) => ({ value: v })); },
          afterFit: (s: any) => { s.height = g.B; },
          ticks: { autoSkip: false, maxRotation: 0, padding: 3, color: "#444", font: { family: "'Liberation Serif', serif", size: 13 }, callback: (v: any) => comma(Number(v)) },
          title: { display: true, text: "Frequency (Hz)", color: "#333", font: { family: "'Liberation Serif', serif", size: 16 }, padding: { top: 0, bottom: 0 } },
        },
        y: {
          type: "logarithmic", min: yMin, max: yMax,
          grid: NO_GRID, border: { display: false },
          afterBuildTicks: (s: any) => { s.ticks = RS_Y_TICKS.map((v) => ({ value: v })); },
          afterFit: (s: any) => { s.width = g.L; },
          ticks: { autoSkip: false, padding: 3, color: "#444", font: { family: "'Liberation Serif', serif", size: 13 }, callback: (v: any) => comma(Number(v)) },
          title: { display: true, text: "Acceleration (m/s/s)", color: "#444", font: { family: "'Liberation Serif', serif", size: 12.5 }, padding: { top: 3, bottom: 0 } },
        },
      },
    },
    plugins: [
      makeFrame({ width: 1, tickWidth: 1, color: "#333", xMajor: RS_X_TICKS, xMinor: logMinors([0.1, 1]), yMajor: RS_Y_TICKS, yMinor: logMinors([0.001, 0.01, 0.1, 1]), major: 7, minor: 4 }),
      makeLegend({ right: 29, top: 128, width: 58, height: 24 }),
    ],
  };
}

function ChartCanvas({ geo, build }: { geo: Geo; build: () => any }) {
  const ref = useRef<HTMLCanvasElement | null>(null);
  const b = boxOf(geo);
  useEffect(() => {
    const chart = new Chart(ref.current as HTMLCanvasElement, build());
    return () => chart.destroy();
  }, []);
  return <canvas ref={ref} width={b.w} height={b.h} style={{ position: "absolute", left: b.x, top: b.y, width: b.w, height: b.h }} />;
}

// ---------------- layout ----------------
const COLUMNS = [
  { key: "ew", rec: ewRecorded, syn: ewSynthetic, pickTop: ewPickTop, pickBottom: ewPickBottom, xMin: 18.27,
    topRange: [-0.0127, 0.0134], bottomRange: [-0.0123, 0.0132], ticks: EW_TICKS, minor: EW_MINOR, digits: 3, pad: 5,
    tl: 210, tr: 513, ftRec: ewFourierRec, ftSyn: ewFourierSyn, fl: 215, fr: 497, fb: 483, fx: [0.209, 4.89], fy: [2.6e-6, 2.6e-2],
    rsRec: ewSpectrumRec, rsSyn: ewSpectrumSyn, rl: 218, rr: 505, title: "Response Spectrum @ TST0 (East-West)", big: "E-W", bigX: 343, tag: "HHE" },
  { key: "ns", rec: nsRecorded, syn: nsSynthetic, pickTop: nsPickTop, pickBottom: nsPickBottom, xMin: 18.49,
    topRange: [-0.0398, 0.0413], bottomRange: [-0.0387, 0.0401], ticks: NS_TICKS, minor: NS_MINOR, digits: 3, pad: 7,
    tl: 612, tr: 913, ftRec: nsFourierRec, ftSyn: nsFourierSyn, fl: 616, fr: 897, fb: 481, fx: [0.207, 4.78], fy: [3.85e-6, 3.68e-2],
    rsRec: nsSpectrumRec, rsSyn: nsSpectrumSyn, rl: 617, rr: 907, title: "Response Spectrum @ TST0 (North-South)", big: "N-S", bigX: 743, tag: "HHN" },
  { key: "ud", rec: udRecorded, syn: udSynthetic, pickTop: udPickTop, pickBottom: udPickBottom, xMin: 18.58,
    topRange: [-8.15, 9.54], bottomRange: [-7.9, 9.05], ticks: UD_TICKS, minor: UD_MINOR, digits: 2, pad: 3,
    tl: 1013, tr: 1314, ftRec: udFourierRec, ftSyn: udFourierSyn, fl: 1017, fr: 1298, fb: 483, fx: [0.207, 4.78], fy: [1.68e-6, 1.68e-2],
    rsRec: udSpectrumRec, rsSyn: udSpectrumSyn, rl: 1020, rr: 1308, title: "Response Spectrum @ TST0 (Up-Down)", big: "U-D", bigX: 1145, tag: "HHZ" },
];

const abs = (s: any) => ({ position: "absolute" as const, whiteSpace: "nowrap" as const, lineHeight: 1, ...s });

export default function App() {
  return (
    <div style={{ position: "fixed", left: 0, top: 0, width: 1324, height: 753, background: "#fff", overflow: "hidden" }}>
      <div style={{ position: "absolute", left: 162, top: 5, width: 1159, height: 746, boxSizing: "border-box", border: "3px solid #000", background: BG }} />

      {COLUMNS.map((c) => {
        const topGeo: Geo = { left: c.tl, right: c.tr, top: 13, bottom: 128, L: 32, T: 6, R: 3, B: 1 };
        const botGeo: Geo = { left: c.tl, right: c.tr, top: 128, bottom: 240, L: 32, T: 6, R: 3, B: 20 };
        const ftGeo: Geo = { left: c.fl, right: c.fr, top: 271, bottom: c.fb, L: 24, T: 4, R: 4, B: 496 - c.fb };
        const rsGeo: Geo = { left: c.rl, right: c.rr, top: 522, bottom: 720, L: 45, T: 6, R: 14, B: 33 };
        return (
          <React.Fragment key={c.key}>
            <ChartCanvas geo={topGeo} build={() => timeChart({ trace: c.rec, color: INK, pick: c.pickTop, xMin: c.xMin, yMin: c.topRange[0], yMax: c.topRange[1], yTicks: c.ticks, yMinor: c.minor, digits: c.digits, showX: false, pad: c.pad }, topGeo)} />
            <ChartCanvas geo={botGeo} build={() => timeChart({ trace: c.syn, color: RED, pick: c.pickBottom, xMin: c.xMin, yMin: c.bottomRange[0], yMax: c.bottomRange[1], yTicks: c.ticks, yMinor: c.minor, digits: c.digits, showX: true, pad: c.pad }, botGeo)} />
            <ChartCanvas geo={ftGeo} build={() => fourierChart({ rec: c.ftRec, syn: c.ftSyn, xMin: c.fx[0], xMax: c.fx[1], yMin: c.fy[0], yMax: c.fy[1] }, ftGeo)} />
            <ChartCanvas geo={rsGeo} build={() => spectrumChart(c.rsRec, c.rsSyn, rsGeo)} />
          </React.Fragment>
        );
      })}

      {/* row labels */}
      {[["Time", "histories", 90], ["Fourier", "transforms", 335], ["Response", "spectra", 580]].map(([a, b, t]) => (
        <div key={String(a)} style={{ position: "absolute", left: 9, top: Number(t), font: "italic bold 29px 'Liberation Sans', Arial, sans-serif", lineHeight: "35px", color: "#000", whiteSpace: "nowrap" }}>
          {a}<br />{b}
        </div>
      ))}

      {/* time-history annotations */}
      <div style={abs({ left: 406, top: 113 - 21, font: "bold 25px 'Liberation Sans', Arial, sans-serif", color: "#000" })}>records</div>
      <div style={abs({ left: 358, top: 223 - 21, font: "bold 25px 'Liberation Sans', Arial, sans-serif", color: "#ff0000" })}>simulations</div>
      {COLUMNS.map((c) => (
        <React.Fragment key={c.key + "-ann"}>
          <div style={abs({ left: c.tl + 17, top: 25, font: "bold 5.5px 'DejaVu Sans', sans-serif", color: "#222" })}>P</div>
          <div style={abs({ left: c.tl + 17, top: 139, font: "bold 5.5px 'DejaVu Sans', sans-serif", color: "#222" })}>P</div>
          <div style={abs({ left: c.tr - 38, top: 22, width: 28, textAlign: "right", font: "bold 4.5px 'DejaVu Sans', sans-serif", color: "#333", lineHeight: "5px" })}>TST.0<br />{c.tag}</div>
          <div style={abs({ left: c.tr - 38, top: 135, width: 28, textAlign: "right", font: "bold 4.5px 'DejaVu Sans', sans-serif", color: "#e33", lineHeight: "5px" })}>2D52<br />SEM3D.{c.tag.slice(2)}</div>
          <div style={abs({ left: c.tl, top: 247, font: "4.2px 'DejaVu Sans', sans-serif", color: "#333" })}>Sep 12 (255), 2005 10:08:30.864</div>
          <div style={abs({ left: c.fr - 37, top: 278, width: 20, textAlign: "right", font: "bold 4.5px 'DejaVu Sans', sans-serif", color: "#333", lineHeight: "5px" })}>TST.0<br /><span style={{ color: "#e33" }}>2D52</span></div>
          <div style={abs({ left: c.bigX, top: 414, transform: "translateX(-50%)", font: "bold 46px 'Liberation Serif', 'Times New Roman', serif", color: BLUE })}>{c.big}</div>
          <div style={abs({ left: (c.rl + c.rr) / 2, top: 506, transform: "translateX(-50%)", font: "8.5px 'Liberation Serif', serif", color: "#555" })}>{c.title}</div>
        </React.Fragment>
      ))}
      {[75, 187].map((y) => (
        <div key={"ud" + y} style={abs({ left: 978, top: y, transform: "translate(-50%, -50%) rotate(-90deg)", font: "bold 5px 'DejaVu Sans', sans-serif", color: "#333" })}>*10⁻³</div>
      ))}
    </div>
  );
}
